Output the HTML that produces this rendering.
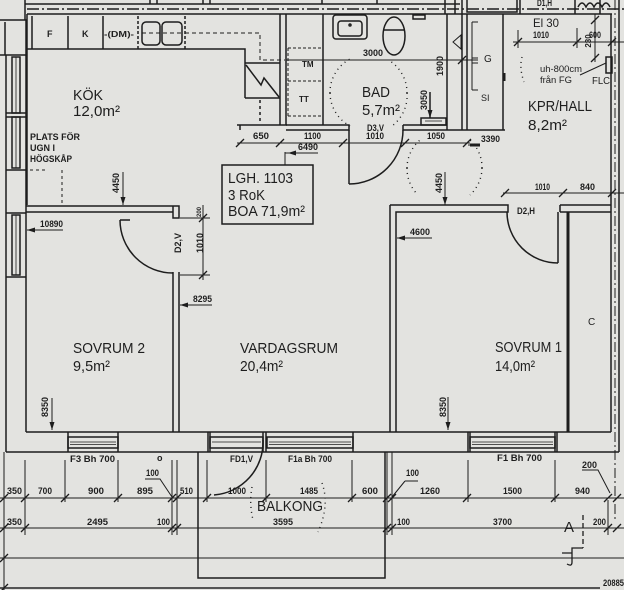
<!DOCTYPE html>
<html><head><meta charset="utf-8"><style>
html,body{margin:0;padding:0;background:#e3e3e0;}
svg{display:block;}
text{font-family:"Liberation Sans",sans-serif;fill:#1e1e1e;}
.r{font-size:15px;}
.d{font-size:9px;font-weight:bold;}
.s{font-size:8px;font-weight:bold;}
</style></head><body>
<svg width="624" height="590" viewBox="0 0 624 590" xmlns="http://www.w3.org/2000/svg">
<rect width="624" height="590" fill="#e3e3e0"/>
<g fill="none" stroke="#1d1d1d" stroke-width="1.5">
<!-- top strip -->
<path d="M25,4 H460 M27,14 H612 M25,0 V20 M150,0 V4 M157,0 V4 M203,0 V4 M210,0 V4 M322,0 V4 M377,0 V4 M445,0 V14 M455,0 V14 M462,0 V14 M467,0 V12 H517 V0 M520,0 V14 M575,0 V14 M600,0 V14"/>
<path d="M27,9 H624" stroke-dasharray="12 3 2 3"/>
<path d="M578,7 q4,-8 8,0 q4,-8 8,0 q4,-8 8,0 q4,-8 8,0"/>
<!-- left column & wall -->
<path d="M0,20 H26 V55 H0 M5,22 V55 M6,55 V452 M26,55 V432 M6,113 H26 M6,117 H26 M6,170 H26 M6,213 H26 M6,277 H26"/>
<rect x="12" y="57" width="8" height="56"/><rect x="12" y="117" width="8" height="51"/><rect x="12" y="215" width="8" height="60"/>
<path d="M16,57 V113 M16,117 V168 M16,215 V275" stroke-width="0.8"/>
<!-- kitchen counter -->
<path d="M27,14 V205 M27,49 H245 V98 M32,16 V49 M68,16 V49 M103,16 V49"/>
<path d="M138,16 V49 M185,16 V49" stroke-dasharray="3 2"/>
<rect x="142" y="22" width="18" height="23" rx="4"/><rect x="162" y="22" width="20" height="23" rx="4"/>
<path d="M142,33 H182 M185,33 H260 V60 H285" stroke-dasharray="4 3" stroke-width="1"/>
<!-- shaft -->
<path d="M245,63 H280 M245,98 H280 M246,65 L261,85 L264,78 L279,97 M237,125 H287 M240,125 V130"/>
<path d="M260,100 V124" stroke-dasharray="3 3"/>
<path d="M280,14 V125 M286,14 V125 M323,14 V125"/>
<path d="M288,48 V117 M288,48 H322 M288,81 H322 M288,116 H322" stroke-dasharray="3 2" stroke-width="1"/>
<!-- bathroom -->
<rect x="333" y="15" width="34" height="24" rx="3"/><rect x="338" y="21" width="24" height="15" rx="3"/>
<circle cx="350" cy="25" r="1"/>
<ellipse cx="394" cy="36" rx="11" ry="19"/><path d="M383,30 H405"/>
<rect x="413" y="15" width="12" height="4"/>
<path d="M286,60 H478" stroke-width="1"/>
<path d="M330,93 A38,38 0 0 1 352,58 M330,93 A38,38 0 0 0 350,126 M407,93 A38,38 0 0 0 390,61 M407,93 A38,38 0 0 1 392,126" stroke-dasharray="1 4" stroke-width="1.4"/>
<path d="M286,125 H349 V130 H286 M403,125 H447 M403,125 V130 H505"/>
<path d="M349,130 V184 M349,184 A54,54 0 0 0 403,130"/>
<rect x="421" y="118" width="25" height="7"/><path d="M425,121 H442" stroke-width="0.8"/>
<path d="M430,92 V118 M447,14 V130 M462,14 V130 M467,14 V130 M503,14 V130" />
<path d="M453,42 L461,35 L461,49 Z" stroke-width="1"/>
<path d="M472,22 V90 M472,22 H478 M472,58 H478 M472,63 H478 M472,90 H478" stroke-width="1"/>
<path d="M504,73 V81" stroke-width="3"/>
<!-- dimension line y=143 -->
<path d="M237,143 H470" stroke-width="1"/>
<path d="M285,152 V165 M285,153 H318 M468,145 H480" stroke-width="1"/>
<path d="M470,145 H480" stroke-width="3"/>
<!-- LGH box -->
<rect x="222" y="165" width="91" height="59"/>
<!-- hall top right -->
<path d="M513,42 H624 M518,30 V48 M577,28 V48 M595,14 V62 M580,75 L606,63" stroke-width="1"/>
<rect x="606" y="57" width="6" height="16"/>
<path d="M522,57 Q519,68 524,82" stroke-dasharray="1 4" stroke-width="1.4"/>
<path d="M611,14 V432 M619,0 V452"/>
<path d="M615,0 V520" stroke-dasharray="10 3 2 3" stroke-width="1"/>
<!-- hallway dotted circle -->
<path d="M407,168 A37.5,37.5 0 0 1 420,140 M407,168 A37.5,37.5 0 0 0 418,195 M482,168 A37.5,37.5 0 0 0 470,140 M482,168 A37.5,37.5 0 0 1 470,195" stroke-dasharray="1 4" stroke-width="1.4"/>
<path d="M445,172 V205 M123,172 V205" stroke-width="1"/>
<path d="M503,193 H624" stroke-width="1"/>
<!-- kitchen dashed hogskap -->
<path d="M62,170 V205 M30,170 H45" stroke-dasharray="3 3" stroke-width="1"/>
<!-- sovrum 2 walls -->
<path d="M26,206 H179 V218 H173 V206 M26,212 H173 M173,272 V432 M179,272 V432"/>
<path d="M120,220 A53,53 0 0 0 173,273 M120,220 H130"/>
<path d="M203,205 V280 M180,218 H210 M180,275 H210" stroke-width="1"/>
<path d="M27,230 H63 M180,305 H212 M52,398 V430 M397,238 H432 M448,397 V430" stroke-width="1"/>
<!-- sovrum 1 walls -->
<path d="M390,205 H508 V212 H396 V432 M390,205 V432 M560,205 H611 M560,212 H611 M560,205 V212"/>
<path d="M568,212 V432" stroke-width="3"/>
<path d="M558,212 V263 M507,212 A51,51 0 0 0 558,263"/>
<!-- bottom wall -->
<path d="M26,432 H611 M6,452 H619"/>
<path d="M68,432 V452 M118,432 V452 M208,432 V452 M210,432 V452 M263,432 V452 M266,432 V452 M353,432 V452 M468,432 V452 M470,432 V452 M555,432 V452 M557,432 V452"/>
<rect x="68" y="437" width="50" height="11"/><rect x="210" y="437" width="53" height="11"/><rect x="267" y="437" width="86" height="11"/><rect x="470" y="437" width="85" height="11"/>
<path d="M70,442 H116 M212,442 H261 M269,442 H351 M472,442 H553 M70,444.5 H116 M269,444.5 H351 M472,444.5 H553" stroke-width="0.8"/>
<path d="M263,440 A53,53 0 0 1 214,495"/>
<!-- balcony -->
<path d="M198,452 V578 H385 V452"/>
<path d="M252,487 Q249,503 253,520 M322,483 Q330,505 318,532" stroke-dasharray="1 4" stroke-width="1.4"/>
<!-- dimension rows -->
<path d="M0,498 H624 M0,528 H624 M0,558 H624 M4,452 V590" stroke-width="1"/>
<path d="M0,588 H600" stroke="#555" stroke-width="2"/>
<path d="M25,460 V535 M65,460 V502 M118,460 V502 M172,460 V535 M177,460 V535 M207,460 V502 M266,460 V502 M352,460 V502 M387,452 V535 M392,452 V535 M468,460 V502 M555,460 V502 M608,500 V535" stroke-width="1"/>
<path d="M0,502 L8,494 M21,502 L29,494 M61,502 L69,494 M114,502 L122,494 M168,502 L176,494 M173,502 L181,494 M203,502 L211,494 M262,502 L270,494 M348,502 L356,494 M383,502 L391,494 M388,502 L396,494 M463,502 L471,494 M551,502 L559,494 M604,502 L612,494 M613,502 L621,494
M0,532 L8,524 M21,532 L29,524 M168,532 L176,524 M173,532 L181,524 M383,532 L391,524 M388,532 L396,524 M604,532 L612,524 M613,532 L621,524 M0,562 L8,554 M0,592 L8,584
M236,147 L244,139 M276,147 L284,139 M339,147 L347,139 M401,147 L409,139 M463,147 L471,139
M458,64 L466,56 M514,46 L522,38 M573,46 L581,38 M608,46 L616,38 M501,197 L509,189 M559,197 L567,189 M608,197 L616,189
M199,222 L207,214 M199,279 L207,271 M591,24 L599,16 M591,62 L599,54" stroke-width="1.3"/>
<path d="M145,479 H160 L172,497 M405,481 H418 M405,481 L392,497 M582,470 H598 L610,493" stroke-width="1"/>
<!-- section marker -->
<path d="M583,515 V548" stroke-dasharray="5 3" stroke-width="1.3"/>
<path d="M583,548 H572 V562 Q572,567 567,564 M562,553 H572" stroke-width="1.3"/>
</g>
<g fill="#1d1d1d">
<polygon points="120.5,197 125.5,197 123,205"/>
<polygon points="442.5,197 447.5,197 445,205"/>
<polygon points="427.5,110 432.5,110 430,118"/>
<polygon points="49.5,422 54.5,422 52,430"/>
<polygon points="445.5,422 450.5,422 448,430"/>
<polygon points="27,230 35,227.5 35,232.5"/>
<polygon points="180,305 188,302.5 188,307.5"/>
<polygon points="397,238 405,235.5 405,240.5"/>
<polygon points="288,153 296,150.5 296,155.5"/>
</g>
<!-- room labels -->
<text class="r" x="73" y="100" textLength="30" lengthAdjust="spacingAndGlyphs">KÖK</text>
<text class="r" x="73" y="116" textLength="47" lengthAdjust="spacingAndGlyphs">12,0m²</text>
<text class="r" x="362" y="97" textLength="28" lengthAdjust="spacingAndGlyphs">BAD</text>
<text class="r" x="362" y="115" textLength="38" lengthAdjust="spacingAndGlyphs">5,7m²</text>
<text class="r" x="528" y="111" textLength="64" lengthAdjust="spacingAndGlyphs">KPR/HALL</text>
<text class="r" x="528" y="130" textLength="39" lengthAdjust="spacingAndGlyphs">8,2m²</text>
<text class="r" x="228" y="183" textLength="65" lengthAdjust="spacingAndGlyphs">LGH. 1103</text>
<text class="r" x="228" y="200" textLength="37" lengthAdjust="spacingAndGlyphs">3 RoK</text>
<text class="r" x="228" y="216" textLength="77" lengthAdjust="spacingAndGlyphs">BOA 71,9m²</text>
<text class="r" x="73" y="353" textLength="72" lengthAdjust="spacingAndGlyphs">SOVRUM 2</text>
<text class="r" x="73" y="371" textLength="37" lengthAdjust="spacingAndGlyphs">9,5m²</text>
<text class="r" x="240" y="353" textLength="98" lengthAdjust="spacingAndGlyphs">VARDAGSRUM</text>
<text class="r" x="240" y="371" textLength="43" lengthAdjust="spacingAndGlyphs">20,4m²</text>
<text class="r" x="495" y="352" textLength="67" lengthAdjust="spacingAndGlyphs">SOVRUM 1</text>
<text class="r" x="495" y="371" textLength="40" lengthAdjust="spacingAndGlyphs">14,0m²</text>
<text class="r" x="257" y="511" textLength="66" lengthAdjust="spacingAndGlyphs">BALKONG</text>
<text class="r" x="533" y="27" textLength="26" lengthAdjust="spacingAndGlyphs" style="font-size:12px">El 30</text>
<text x="564" y="532" style="font-size:15px">A</text>
<!-- small labels -->
<text class="d" x="30" y="140" textLength="50" lengthAdjust="spacingAndGlyphs">PLATS FÖR</text>
<text class="d" x="30" y="151" textLength="25" lengthAdjust="spacingAndGlyphs">UGN I</text>
<text class="d" x="30" y="162" textLength="42" lengthAdjust="spacingAndGlyphs">HÖGSKÅP</text>
<text class="d" x="47" y="37">F</text>
<text class="d" x="82" y="37">K</text>
<text class="s" x="104" y="37" textLength="30" lengthAdjust="spacingAndGlyphs">-(DM)-</text>
<text class="s" x="302" y="67">TM</text>
<text class="s" x="299" y="102">TT</text>
<text class="d" x="363" y="56" textLength="20" lengthAdjust="spacingAndGlyphs">3000</text>
<text class="d" transform="translate(443,66) rotate(-90)" text-anchor="middle">1900</text>
<text class="d" transform="translate(427,100) rotate(-90)" text-anchor="middle">3050</text>
<text class="d" x="367" y="131" textLength="17" lengthAdjust="spacingAndGlyphs">D3,V</text>
<text class="d" x="366" y="139" textLength="18" lengthAdjust="spacingAndGlyphs">1010</text>
<text class="d" x="253" y="139" textLength="16" lengthAdjust="spacingAndGlyphs">650</text>
<text class="d" x="304" y="139" textLength="17" lengthAdjust="spacingAndGlyphs">1100</text>
<text class="d" x="427" y="139" textLength="18" lengthAdjust="spacingAndGlyphs">1050</text>
<text class="d" x="481" y="142" textLength="19" lengthAdjust="spacingAndGlyphs">3390</text>
<text class="d" x="298" y="150" textLength="20" lengthAdjust="spacingAndGlyphs">6490</text>
<text class="d" x="537" y="6" textLength="15" lengthAdjust="spacingAndGlyphs">D1,H</text>
<text class="d" x="533" y="38" textLength="16" lengthAdjust="spacingAndGlyphs">1010</text>
<text class="d" x="589" y="38" textLength="12" lengthAdjust="spacingAndGlyphs">600</text>
<text class="s" transform="translate(591,41) rotate(-90)" text-anchor="middle">230</text>
<text class="d" x="540" y="72" textLength="42" lengthAdjust="spacingAndGlyphs" style="font-weight:normal">uh-800cm</text>
<text class="d" x="540" y="83" textLength="32" lengthAdjust="spacingAndGlyphs" style="font-weight:normal">från FG</text>
<text x="592" y="84" style="font-size:10px" textLength="18" lengthAdjust="spacingAndGlyphs">FLC</text>
<text x="484" y="62" style="font-size:10px">G</text>
<text class="d" x="481" y="101" style="font-weight:normal">SI</text>
<text class="d" transform="translate(119,183) rotate(-90)" text-anchor="middle">4450</text>
<text class="d" transform="translate(442,183) rotate(-90)" text-anchor="middle">4450</text>
<text class="d" x="40" y="227" textLength="23" lengthAdjust="spacingAndGlyphs">10890</text>
<text class="d" x="193" y="302" textLength="19" lengthAdjust="spacingAndGlyphs">8295</text>
<text class="d" transform="translate(181,243) rotate(-90)" text-anchor="middle">D2,V</text>
<text class="d" transform="translate(203,243) rotate(-90)" text-anchor="middle">1010</text>
<text class="s" transform="translate(201,212) rotate(-90)" text-anchor="middle" style="font-size:6px">200</text>
<text class="d" x="410" y="235" textLength="20" lengthAdjust="spacingAndGlyphs">4600</text>
<text class="d" x="517" y="214" textLength="18" lengthAdjust="spacingAndGlyphs">D2,H</text>
<text class="d" x="535" y="190" textLength="15" lengthAdjust="spacingAndGlyphs">1010</text>
<text class="d" x="580" y="190" textLength="15" lengthAdjust="spacingAndGlyphs">840</text>
<text class="d" transform="translate(48,407) rotate(-90)" text-anchor="middle">8350</text>
<text class="d" transform="translate(446,407) rotate(-90)" text-anchor="middle">8350</text>
<text x="588" y="325" style="font-size:10px">C</text>
<text class="d" x="70" y="462" textLength="45" lengthAdjust="spacingAndGlyphs">F3 Bh 700</text>
<text class="d" x="157" y="461">o</text>
<text class="d" x="230" y="462" textLength="23" lengthAdjust="spacingAndGlyphs">FD1,V</text>
<text class="d" x="288" y="462" textLength="44" lengthAdjust="spacingAndGlyphs">F1a Bh 700</text>
<text class="d" x="497" y="461" textLength="45" lengthAdjust="spacingAndGlyphs">F1 Bh 700</text>
<text class="d" x="7" y="494" textLength="15" lengthAdjust="spacingAndGlyphs">350</text>
<text class="d" x="38" y="494" textLength="14" lengthAdjust="spacingAndGlyphs">700</text>
<text class="d" x="88" y="494" textLength="16" lengthAdjust="spacingAndGlyphs">900</text>
<text class="d" x="137" y="494" textLength="16" lengthAdjust="spacingAndGlyphs">895</text>
<text class="d" x="180" y="494" textLength="13" lengthAdjust="spacingAndGlyphs">510</text>
<text class="d" x="228" y="494" textLength="18" lengthAdjust="spacingAndGlyphs">1000</text>
<text class="d" x="300" y="494" textLength="18" lengthAdjust="spacingAndGlyphs">1485</text>
<text class="d" x="362" y="494" textLength="16" lengthAdjust="spacingAndGlyphs">600</text>
<text class="d" x="420" y="494" textLength="20" lengthAdjust="spacingAndGlyphs">1260</text>
<text class="d" x="503" y="494" textLength="19" lengthAdjust="spacingAndGlyphs">1500</text>
<text class="d" x="575" y="494" textLength="15" lengthAdjust="spacingAndGlyphs">940</text>
<text class="d" x="146" y="476" textLength="13" lengthAdjust="spacingAndGlyphs">100</text>
<text class="d" x="406" y="476" textLength="13" lengthAdjust="spacingAndGlyphs">100</text>
<text class="d" x="582" y="468" textLength="15" lengthAdjust="spacingAndGlyphs">200</text>
<text class="d" x="7" y="525" textLength="15" lengthAdjust="spacingAndGlyphs">350</text>
<text class="d" x="87" y="525" textLength="21" lengthAdjust="spacingAndGlyphs">2495</text>
<text class="d" x="157" y="525" textLength="13" lengthAdjust="spacingAndGlyphs">100</text>
<text class="d" x="273" y="525" textLength="20" lengthAdjust="spacingAndGlyphs">3595</text>
<text class="d" x="397" y="525" textLength="13" lengthAdjust="spacingAndGlyphs">100</text>
<text class="d" x="493" y="525" textLength="19" lengthAdjust="spacingAndGlyphs">3700</text>
<text class="d" x="593" y="525" textLength="13" lengthAdjust="spacingAndGlyphs">200</text>
<text class="d" x="603" y="586" textLength="21" lengthAdjust="spacingAndGlyphs">20885</text>
</svg>
</body></html>
